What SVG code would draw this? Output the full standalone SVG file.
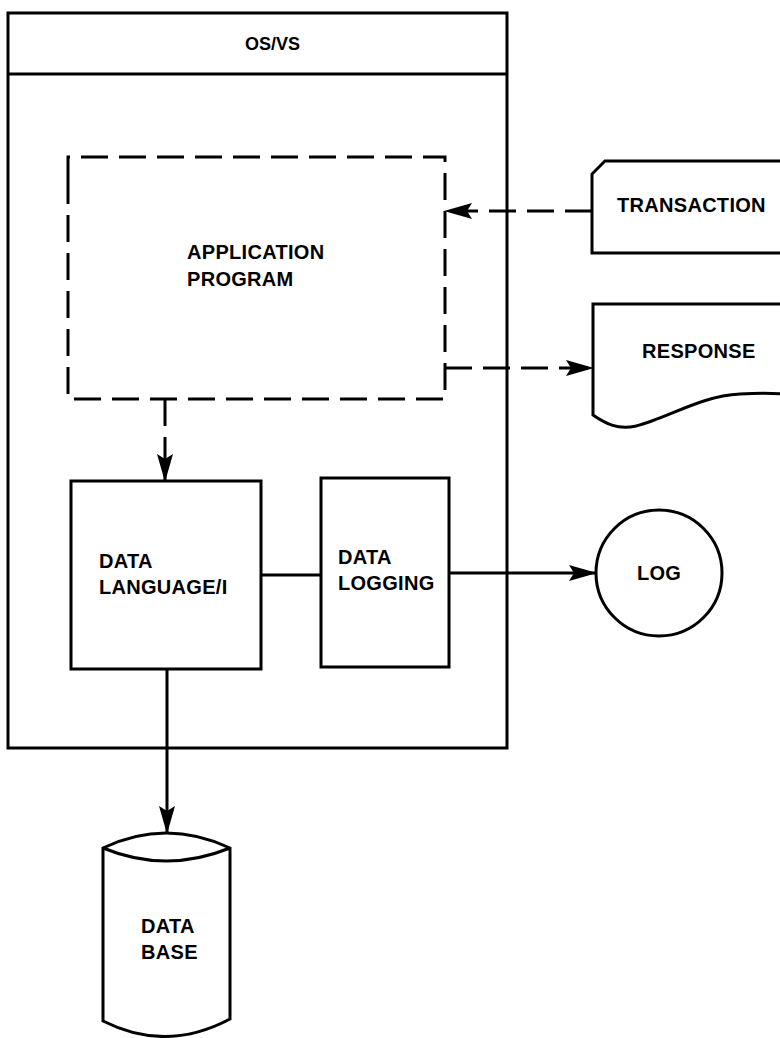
<svg xmlns="http://www.w3.org/2000/svg" width="780" height="1038" viewBox="0 0 780 1038">
<style>
.s{fill:#fff;stroke:#000;stroke-width:3;stroke-linejoin:miter}
.n{fill:none;stroke:#000;stroke-width:3}
.d{fill:none;stroke:#000;stroke-width:3;stroke-dasharray:27 11}
.t{font-family:"Liberation Sans",Arial,sans-serif;font-weight:bold;font-size:20px;letter-spacing:0.3px;fill:#000}
</style>
<defs>
<marker id="ah" viewBox="0 0 28 16" markerWidth="28" markerHeight="16" refX="27" refY="8" orient="auto" markerUnits="userSpaceOnUse">
<path d="M0,0 L28,8 L0,16 L5,8 Z" fill="#000" stroke="none"/>
</marker>
</defs>
<rect width="780" height="1038" fill="#fff"/>
<g id="osvs">
<rect class="s" x="8" y="13" width="499" height="735"/>
<line class="n" x1="8" y1="74" x2="507" y2="74"/>
<text class="t" x="245" y="50" style="font-size:18px;letter-spacing:0">OS/VS</text>
</g>
<g id="app">
<path class="d" d="M68,182 V157 H445 V399 H68 Z"/>
<text class="t" x="187" y="259">APPLICATION</text>
<text class="t" x="187" y="286">PROGRAM</text>
</g>
<g id="dli">
<rect class="s" x="71" y="481" width="190" height="188"/>
<text class="t" x="99" y="568">DATA</text>
<text class="t" x="99" y="594">LANGUAGE/I</text>
</g>
<g id="logging">
<rect class="s" x="321" y="478" width="128" height="189"/>
<text class="t" x="338" y="564">DATA</text>
<text class="t" x="338" y="590">LOGGING</text>
</g>
<g id="transaction">
<path class="s" d="M782,161 H605 L592,174 V253 H782"/>
<text class="t" x="617" y="212">TRANSACTION</text>
</g>
<g id="response">
<path class="s" d="M782,304 H593 V415 C606,424 618,430 636,426 C668,418 700,396 740,394 C760,393 770,393 782,394"/>
<text class="t" x="642" y="358">RESPONSE</text>
</g>
<g id="log">
<circle class="s" cx="659" cy="573" r="63"/>
<text class="t" x="659" y="580" text-anchor="middle">LOG</text>
</g>
<g id="database">
<path class="s" d="M103,848 Q166,818 230,848 V1019 Q166,1053 103,1021 Z"/>
<path class="n" d="M103,848 Q166,874 230,848"/>
<text class="t" x="141" y="933">DATA</text>
<text class="t" x="141" y="959">BASE</text>
</g>
<g id="connectors">
<line class="d" x1="592" y1="211" x2="445" y2="211" marker-end="url(#ah)"/>
<line class="d" x1="445" y1="368" x2="593" y2="368" marker-end="url(#ah)"/>
<line class="d" x1="165" y1="399" x2="165" y2="481" marker-end="url(#ah)"/>
<line class="n" x1="261" y1="575" x2="321" y2="575"/>
<line class="n" x1="449" y1="573" x2="596" y2="573" marker-end="url(#ah)"/>
<line class="n" x1="167" y1="669" x2="167" y2="833" marker-end="url(#ah)"/>
</g>
</svg>
